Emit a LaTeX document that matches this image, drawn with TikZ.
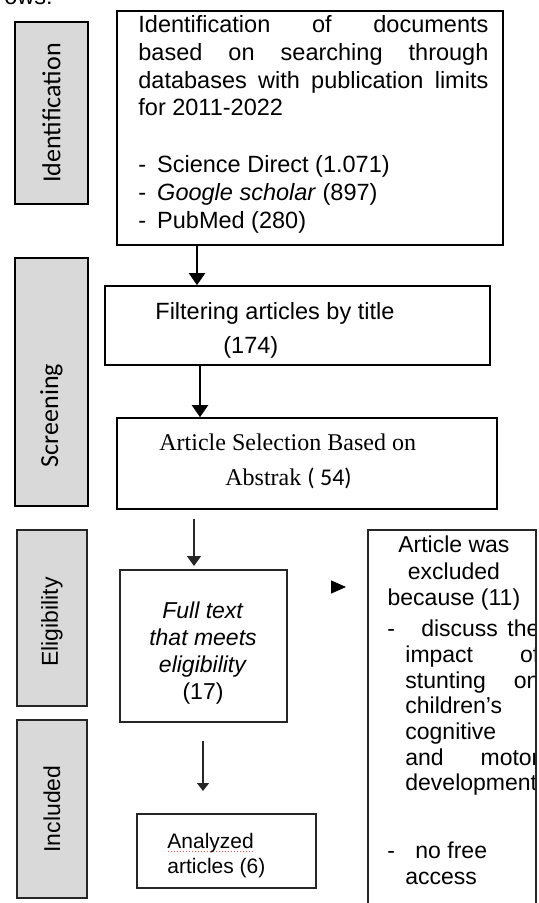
\documentclass[tikz,border=0pt]{standalone}
\usepackage{fontspec}
\setmainfont{Liberation Sans}
\newfontfamily\calibrifont{Carlito}
\newfontfamily\romanfont{Liberation Serif}
\usetikzlibrary{arrows.meta}
\definecolor{phasegray}{HTML}{D9D9D9}

\begin{document}
\begin{tikzpicture}[x=0.5pt, y=-0.5pt,
flowbox/.style={draw=black, line width=0.8pt, inner sep=0pt},
lowbox/.style={draw=black!85, line width=1pt, inner sep=0pt},
phase/.style={draw=black, line width=0.8pt, fill=phasegray, inner sep=0pt, minimum width=36.5pt},
phaselabel/.style={rotate=90, inner sep=0pt, font=\calibrifont\fontsize{13}{15}\selectfont},
txt/.style={inner sep=0pt, align=left, font=\fontsize{11.75}{13.9}\selectfont},
arr/.style={-{Triangle[length=6pt,width=8pt]}, line width=1pt},
lowarr/.style={-{Triangle[length=5pt,width=7pt]}, line width=0.8pt, draw=black!85, fill=black!85},
sidearr/.style={-{Triangle[length=7.5pt,width=6.5pt]}, line width=0.7pt, shorten >=10.5pt}
]
\useasboundingbox (0,0) rectangle (539,903);

\node[txt, anchor=base east] (intro) at (53,5) {ows:};

\node[phase, minimum height=91pt] (idph) at (51.5,113) {};
\node[phaselabel] (idlabel) at (idph.center) {Identification};
\node[phase, minimum height=124pt] (scrph) at (51.5,382) {};
\node[phaselabel] (scrlabel) at ([yshift=-16.75pt]scrph.center) {Screening};
\node[phase, draw=black!85, line width=1pt, minimum width=35pt, minimum height=88pt] (eliph) at (52,618) {};
\node[phaselabel, font=\fontsize{11.5}{13}\selectfont] (elilabel) at ([yshift=-2pt]eliph.center) {Eligibility};
\node[phase, draw=black!85, line width=1pt, minimum width=35pt, minimum height=89pt] (incph) at (52,809) {};
\node[phaselabel, font=\fontsize{11.5}{13}\selectfont] (inclabel) at (incph.center) {Included};

\node[flowbox, minimum width=193pt, minimum height=117pt] (ident) at (310,128) {};
\node[txt, anchor=north west] (identtxt) at (138,15) {
\hbox to 175pt{Identification\hfill of\hfill documents}\\
\hbox to 175pt{based\hfill on\hfill searching\hfill through}\\
\hbox to 175pt{databases\hfill with\hfill publication\hfill limits}\\
for 2011-2022\\[14.6pt]
-\hspace{5.5pt}Science Direct (1.071)\\
-\hspace{5.5pt}\textit{Google scholar} (897)\\
-\hspace{5.5pt}PubMed (280)};

\node[flowbox, minimum width=192.5pt, minimum height=39.5pt] (filter) at (297.5,325.5) {};
\node[txt, anchor=north west] (filtertxt) at (155,302) {Filtering articles by title\\[3.1pt]\hspace*{34pt}(174)};

\node[flowbox, minimum width=190pt, minimum height=45.5pt] (select) at (307,463.5) {};
\node[txt, anchor=north west, font=\romanfont\fontsize{12}{17.5}\selectfont] (selecttxt) at (159,433.5) {Article Selection Based on\\\hspace*{33pt}Abstrak {\calibrifont( 54)}};

\node[lowbox, minimum width=83.5pt, minimum height=76pt] (full) at (203.5,646) {};
\node[txt, anchor=north, align=center, font=\fontsize{11.5}{13.65}\selectfont] (fulltxt) at (203,601) {\textit{Full text}\\\textit{that meets}\\\textit{eligibility}\\(17)};

\node[lowbox, minimum width=89.5pt, minimum height=37pt] (anal) at (226.5,851) {};
\node[txt, anchor=north west, font=\fontsize{10.5}{12.5}\selectfont] (analtxt) at (167,833) {Analyzed\\articles (6)};
\draw[red!70, densely dotted, line width=0.5pt] (168,851) -- (253,851);

\begin{scope}
\clip (368,520) rectangle (536,910);
\node[txt, anchor=north west, font=\fontsize{11.5}{12.85}\selectfont] (excltxt) at (387,535.5) {
\hbox to 66.5pt{\hfil Article was\hfil}\\[0.75pt]
\hbox to 66.5pt{\hfil excluded\hfil}\\
\hbox to 66.5pt{\hfil because (11)\hfil}\\[2.75pt]
\hbox to 76pt{-\hspace{13.1pt}discuss\hfill the}\\
\hbox to 76pt{\hspace{9pt}impact\hfill of}\\
\hbox to 76pt{\hspace{9pt}stunting\hfill on}\\
\hbox to 76pt{\hspace{9pt}children's\hfill}\\
\hbox to 76pt{\hspace{9pt}cognitive\hfill}\\
\hbox to 76pt{\hspace{9pt}and\hfill motor}\\
\hbox to 76pt{\hspace{9pt}development\hfill}\\[21pt]
\hbox to 76pt{-\hspace{10.2pt}no free\hfill}\\
\hbox to 76pt{\hspace{9pt}access\hfill}};
\end{scope}
\node[lowbox, minimum width=84pt, minimum height=195pt] (excl) at (452,725) {};

\coordinate (a1) at (197,0);
\coordinate (a2) at (200,0);
\coordinate (a3) at (194,0);
\coordinate (a4) at (203,0);
\coordinate (xtail) at (332,587);
\draw[arr] (ident.south -| a1) -- (filter.north -| a1);
\draw[arr] (filter.south -| a2) -- (select.north -| a2);
\draw[lowarr] ([yshift=-4.5pt]select.south -| a3) -- ([yshift=1.5pt]full.north -| a3);
\draw[lowarr, -{Triangle[length=4pt,width=6pt]}, line width=0.7pt] ([yshift=-9pt]full.south -| a4) -- ([yshift=11pt]anal.north -| a4);
\draw[sidearr] (xtail) -- (excl.west |- xtail);

\end{tikzpicture}
\end{document}
